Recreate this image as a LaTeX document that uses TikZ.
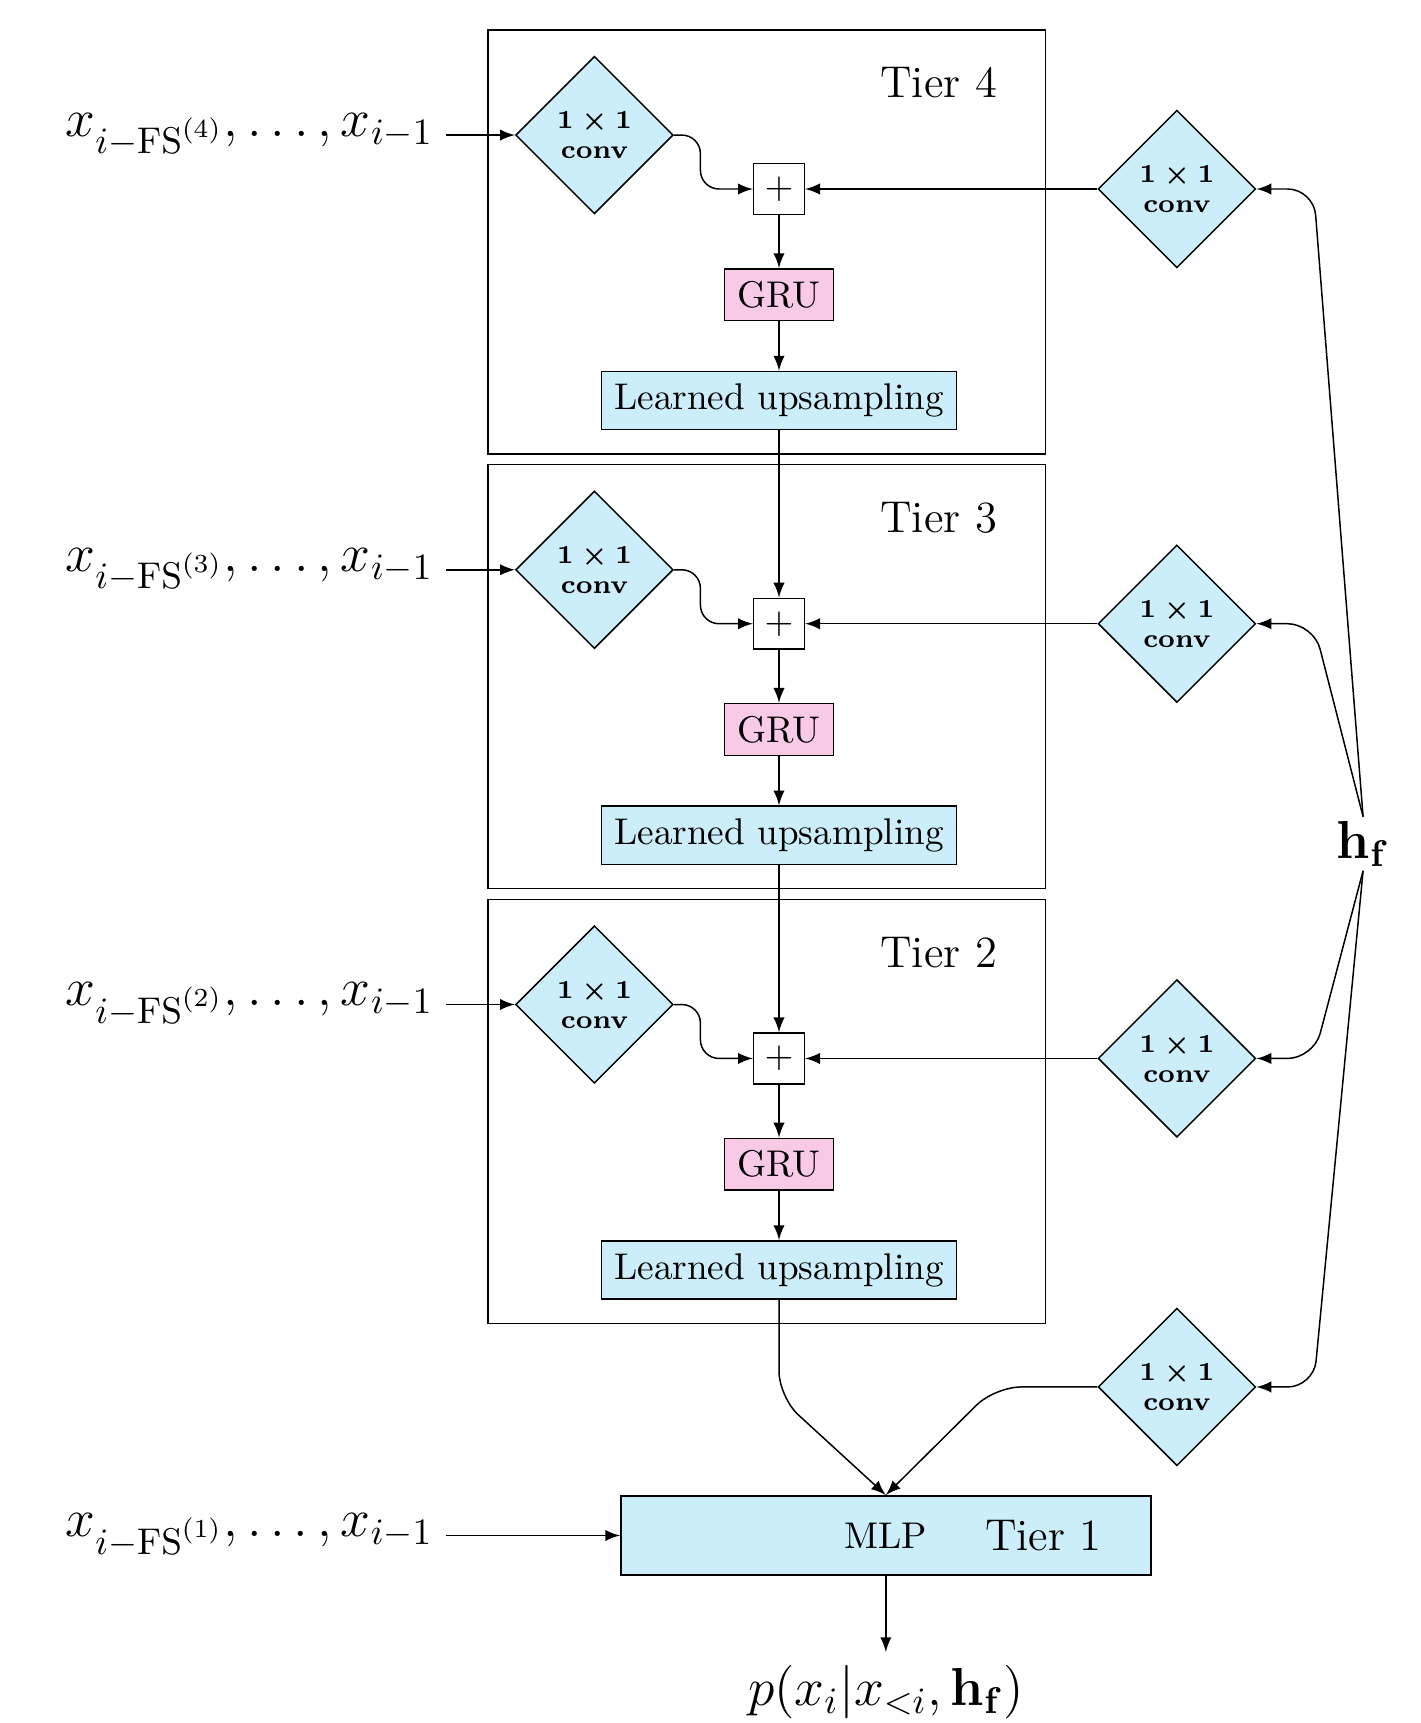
\documentclass[tikz,border=0pt]{standalone}
\usepackage{amsmath}
\usepackage{tikz}
\usetikzlibrary{shapes.geometric, arrows}
\definecolor{convblue}{RGB}{204,237,250}
\definecolor{grupink}{RGB}{248,202,230}
\tikzstyle{conv} = [diamond, aspect=1, minimum size=1.49cm, inner sep=0pt,
text centered, align=center, draw=black, fill=convblue,
font=\scriptsize\bfseries\boldmath]
\tikzstyle{plus} = [rectangle, minimum size=0.48cm, inner sep=0pt, draw=black,
fill=white]
\tikzstyle{gru} = [rectangle, minimum width=1.03cm, minimum height=0.47cm,
draw=black, fill=grupink]
\tikzstyle{upsample} = [rectangle, minimum width=3.36cm, minimum height=0.54cm,
draw=black, fill=convblue]
\tikzstyle{tierbox} = [rectangle, minimum width=5.27cm, minimum height=4.01cm,
draw=black]
\tikzstyle{tierlabel} = [font=\large, anchor=north east]
\tikzstyle{input} = [font=\Large, anchor=east]
\tikzstyle{arrow} =
[->,>=latex]

\begin{document}
\begin{tikzpicture}[node distance=1cm]
\useasboundingbox (0,0) rectangle (13.43,-16.29);

% tier 4
\node(plus4)[plus] at (7.365,-1.787){$+$};
\node(gru4)[gru, below of=plus4]{GRU};
\node(up4)[upsample, below of=gru4]{Learned upsampling};
\node(conv4)[conv, left of=plus4, xshift=-0.745cm, yshift=0.51cm]{$1\times1$\\conv};
\node(hconv4)[conv, right of=plus4, xshift=2.762cm]{$1\times1$\\conv};
\node(tier4)[tierbox, above of=gru4, xshift=-0.118cm, yshift=-0.5cm]{};
\node(label4)[tierlabel] at ([xshift=-0.34cm, yshift=-0.24cm]tier4.north east){Tier 4};
\node(in4)[left of=conv4, xshift=-0.4cm, input]{$x_{i-\mathrm{FS}^{(4)}}, \dots, x_{i-1}$};

% tier 3
\node(plus3)[plus, below of=up4, yshift=-1.11cm]{$+$};
\node(gru3)[gru, below of=plus3]{GRU};
\node(up3)[upsample, below of=gru3]{Learned upsampling};
\node(conv3)[conv, left of=plus3, xshift=-0.745cm, yshift=0.51cm]{$1\times1$\\conv};
\node(hconv3)[conv, right of=plus3, xshift=2.762cm]{$1\times1$\\conv};
\node(tier3)[tierbox, above of=gru3, xshift=-0.118cm, yshift=-0.5cm]{};
\node(label3)[tierlabel] at ([xshift=-0.34cm, yshift=-0.24cm]tier3.north east){Tier 3};
\node(in3)[left of=conv3, xshift=-0.4cm, input]{$x_{i-\mathrm{FS}^{(3)}}, \dots, x_{i-1}$};

% tier 2
\node(plus2)[plus, below of=up3, yshift=-1.11cm]{$+$};
\node(gru2)[gru, below of=plus2]{GRU};
\node(up2)[upsample, below of=gru2]{Learned upsampling};
\node(conv2)[conv, left of=plus2, xshift=-0.745cm, yshift=0.51cm]{$1\times1$\\conv};
\node(hconv2)[conv, right of=plus2, xshift=2.762cm]{$1\times1$\\conv};
\node(tier2)[tierbox, above of=gru2, xshift=-0.118cm, yshift=-0.5cm]{};
\node(label2)[tierlabel] at ([xshift=-0.34cm, yshift=-0.24cm]tier2.north east){Tier 2};
\node(in2)[left of=conv2, xshift=-0.4cm, input]{$x_{i-\mathrm{FS}^{(2)}}, \dots, x_{i-1}$};

% tier 1
\node(hconv1)[conv, below of=hconv2, yshift=-2.106cm]{$1\times1$\\conv};
\node(mlp)[upsample, minimum width=5.01cm, minimum height=0.75cm, below of=up2,
xshift=1.01cm, yshift=-1.51cm]{MLP};
\node(label1)[font=\large] at ([xshift=1.49cm]mlp.center){Tier 1};
\node(in1)[left of=mlp, xshift=-3.156cm, input]{$x_{i-\mathrm{FS}^{(1)}}, \dots, x_{i-1}$};
\node(out)[below of=mlp, yshift=-0.48cm, font=\Large]{$p(x_i|x_{<i},\mathbf{h_f})$};

\node(hf)[right of=hconv3, xshift=0.76cm, yshift=-2.08cm, font=\Large,
inner sep=1pt]{$\mathbf{h_f}$};

\draw[arrow](in4) -- (conv4);
\draw[arrow, rounded corners=5pt](conv4.east) -- ([xshift=0.25cm]conv4.east) |- (plus4.west);
\draw[arrow](hconv4) -- (plus4);
\draw[arrow](plus4) -- (gru4);
\draw[arrow](gru4) -- (up4);
\draw[arrow](up4) -- (plus3);

\draw[arrow](in3) -- (conv3);
\draw[arrow, rounded corners=5pt](conv3.east) -- ([xshift=0.25cm]conv3.east) |- (plus3.west);
\draw[arrow](hconv3) -- (plus3);
\draw[arrow](plus3) -- (gru3);
\draw[arrow](gru3) -- (up3);
\draw[arrow](up3) -- (plus2);

\draw[arrow](in2) -- (conv2);
\draw[arrow, rounded corners=5pt](conv2.east) -- ([xshift=0.25cm]conv2.east) |- (plus2.west);
\draw[arrow](hconv2) -- (plus2);
\draw[arrow](plus2) -- (gru2);
\draw[arrow](gru2) -- (up2);

\draw[arrow, rounded corners=7pt](up2.south) -- ([yshift=-0.92cm]up2.south) -- (mlp.north);
\draw[arrow, rounded corners=7pt](hconv1.west) -- ([xshift=-0.97cm]hconv1.west) -- (mlp.north);
\draw[arrow](in1) -- (mlp);
\draw[arrow](mlp) -- (out);

\draw[arrow, rounded corners=7pt](hf.north) -- ([xshift=0.54cm]hconv4.east) -- (hconv4.east);
\draw[arrow, rounded corners=7pt](hf.north) -- ([xshift=0.54cm]hconv3.east) -- (hconv3.east);
\draw[arrow, rounded corners=7pt](hf.south) -- ([xshift=0.54cm]hconv2.east) -- (hconv2.east);
\draw[arrow, rounded corners=7pt](hf.south) -- ([xshift=0.54cm]hconv1.east) -- (hconv1.east);

\end{tikzpicture}
\end{document}
